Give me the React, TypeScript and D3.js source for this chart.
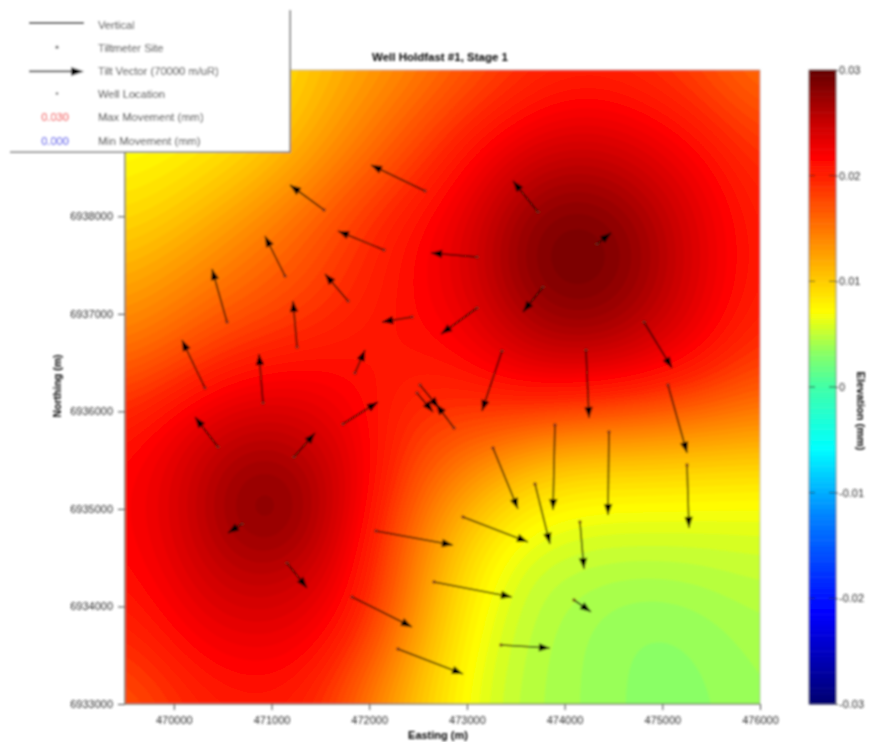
import * as d3 from "d3";
import { useEffect, useRef } from "react";

// Elevation every 500 m, north row first (mm)
const fieldEasting = [469500, 470000, 470500, 471000, 471500, 472000, 472500, 473000, 473500, 474000, 474500, 475000, 475500, 476000];
const fieldNorthing = [6939500, 6939000, 6938500, 6938000, 6937500, 6937000, 6936500, 6936000, 6935500, 6935000, 6934500, 6934000, 6933500, 6933000];
const fieldRows = [
  [.0055, .0062, .0070, .0085, .0108, .0125, .0145, .0165, .0187, .0198, .0197, .0188, .0172, .0150],
  [.0060, .0068, .0078, .0094, .0120, .0145, .0168, .0195, .0212, .0228, .0226, .0214, .0197, .0174],
  [.0075, .0082, .0094, .0112, .0137, .0160, .0190, .0215, .0247, .0260, .0256, .0237, .0218, .0190],
  [.0090, .0102, .0122, .0142, .0165, .0193, .0212, .0232, .0271, .0289, .0283, .0256, .0227, .0200],
  [.0112, .0128, .0145, .0160, .0178, .0198, .0218, .0238, .0278, .0300, .0293, .0262, .0230, .0200],
  [.0135, .0150, .0165, .0178, .0190, .0205, .0215, .0228, .0262, .0280, .0274, .0250, .0224, .0197],
  [.0158, .0175, .0198, .0208, .0212, .0212, .0208, .0212, .0235, .0246, .0243, .0228, .0208, .0180],
  [.0195, .0218, .0236, .0245, .0235, .0212, .0190, .0190, .0190, .0180, .0174, .0166, .0158, .0148],
  [.0212, .0233, .0262, .0271, .0252, .0222, .0175, .0150, .0122, .0105, .0105, .0103, .0102, .0100],
  [.0215, .0238, .0272, .0300, .0262, .0215, .0155, .0115, .0085, .0072, .0068, .0068, .0066, .0065],
  [.0212, .0232, .0258, .0266, .0248, .0203, .0140, .0092, .0058, .0052, .0050, .0050, .0052, .0055],
  [.0203, .0222, .0241, .0243, .0232, .0198, .0130, .0080, .0053, .0045, .0037, .0036, .0040, .0046],
  [.0187, .0208, .0222, .0223, .0215, .0172, .0118, .0070, .0050, .0042, .0036, .0032, .0036, .0042],
  [.0165, .0190, .0203, .0205, .0195, .0142, .0105, .0066, .0048, .0042, .0036, .0031, .0034, .0040],
];

// Tilt vectors: tiltmeter site and arrow tip
const siteEasting = [472571, 471537, 472151, 473727, 473103, 474331, 471138, 471783, 470544, 471261, 472438, 473103, 473779, 470319, 470913, 471854, 471731, 470452, 471230, 472520, 472868, 472489, 473359, 474219, 474812, 475058, 473901, 474454, 473267, 473697, 474157, 475253, 472960, 472069, 472663, 471824, 472294, 473349, 474096, 471158, 470698];
const siteNorthing = [6938260, 6938065, 6937655, 6938044, 6937583, 6937716, 6937388, 6937132, 6936916, 6936660, 6936968, 6937060, 6937275, 6936240, 6936086, 6936394, 6935871, 6935635, 6935532, 6936271, 6935830, 6936189, 6936619, 6936629, 6936916, 6936271, 6935861, 6935789, 6935625, 6935256, 6934866, 6935450, 6934917, 6934774, 6934251, 6934097, 6933564, 6933605, 6934066, 6934446, 6934846];
const tipEasting = [472018, 471189, 471680, 473472, 472632, 474475, 470933, 471547, 470391, 471220, 472131, 472735, 473574, 470083, 470872, 471957, 472090, 470217, 471445, 472714, 472683, 472653, 473154, 474250, 475099, 475253, 473881, 474444, 473523, 473850, 474198, 475273, 473625, 472857, 473461, 472438, 472960, 473850, 474270, 471363, 470554];
const tipNorthing = [6938526, 6938321, 6937849, 6938362, 6937624, 6937829, 6937798, 6937409, 6937460, 6937132, 6936916, 6936793, 6937019, 6936732, 6936588, 6936629, 6936096, 6935943, 6935779, 6936035, 6936076, 6935994, 6936004, 6935932, 6936445, 6935573, 6934989, 6934938, 6934999, 6934641, 6934384, 6934805, 6934661, 6934630, 6934097, 6933790, 6933308, 6933574, 6933944, 6934189, 6934753];

const eastTicks = [470000, 471000, 472000, 473000, 474000, 475000, 476000];
const northTicks = [6933000, 6934000, 6935000, 6936000, 6937000, 6938000];
const barTicks = [0.03, 0.02, 0.01, 0, -0.01, -0.02, -0.03];

const legendLabels = ["Vertical", "Tiltmeter Site", "Tilt Vector (70000 m/uR)", "Well Location", "Max Movement (mm)", "Min Movement (mm)"];

// Colour ramp of the elevation bar
const rampStops = [-0.03, -0.0214, -0.0123, -0.0058, 0, 0.0032, 0.0071, 0.0144, 0.0218, 0.025, 0.03];
const rampColors = ["#00006e", "#0000ff", "#0080ff", "#00ffff", "#40ffa8", "#88ff66", "#ffff00", "#ff8000", "#ff0000", "#c80000", "#640000"];

const W = 869;
const H = 742;
const FONT = "'Liberation Sans', Arial, sans-serif";
const TEXT_GREY = "#2e2e2e";
const FINE = 10; // contouring cells per 500 m grid step

// Catmull-Rom weights, only used to draw the read grid as smooth contours
const cr = (a: number, b: number, c: number, d: number, t: number) =>
  b + 0.5 * t * (c - a + t * (2 * a - 5 * b + 4 * c - d + t * (3 * (b - c) + d - a)));

const sampleField = (u: number, v: number) => {
  const nx = fieldEasting.length;
  const ny = fieldNorthing.length;
  const iu = Math.floor(u);
  const iv = Math.floor(v);
  const at = (i: number, j: number) =>
    fieldRows[Math.max(0, Math.min(ny - 1, j))][Math.max(0, Math.min(nx - 1, i))];
  const rows = [-1, 0, 1, 2].map((dj) =>
    cr(at(iu - 1, iv + dj), at(iu, iv + dj), at(iu + 1, iv + dj), at(iu + 2, iv + dj), u - iu)
  );
  return cr(rows[0], rows[1], rows[2], rows[3], v - iv);
};

export default function App() {
  const svgRef = useRef<SVGSVGElement>(null);

  useEffect(() => {
    const svg = d3.select(svgRef.current);
    svg.selectAll("*").remove();

    const x = d3.scaleLinear().domain([469500, 476000]).range([125, 760]);
    const y = d3.scaleLinear().domain([6933000, 6939500]).range([704, 70]);
    const bar = d3.scaleLinear().domain([-0.03, 0.03]).range([704, 70]);
    const color = d3.scaleLinear<string>().domain(rampStops).range(rampColors).clamp(true);

    const defs = svg.append("defs");
    defs.append("filter")
      .attr("id", "soft")
      .attr("filterUnits", "userSpaceOnUse")
      .attr("x", 0).attr("y", 0).attr("width", W).attr("height", H)
      .append("feGaussianBlur").attr("stdDeviation", 0.85);
    defs.append("clipPath").attr("id", "plot-clip")
      .append("rect")
      .attr("x", 125).attr("y", 70).attr("width", 635).attr("height", 634);

    const root = svg.append("g").attr("filter", "url(#soft)").style("font-family", FONT);

    // ── Filled contours ──
    const nx = fieldEasting.length;
    const ny = fieldNorthing.length;
    const w = (nx + 1) * FINE + 1;
    const h = (ny + 1) * FINE + 1;
    const fine = new Float64Array(w * h);
    for (let j = 0; j < h; j++) {
      for (let i = 0; i < w; i++) {
        fine[j * w + i] = sampleField(i / FINE - 1, j / FINE - 1);
      }
    }
    d3.blur2({ data: fine, width: w, height: h }, 6);

    const thresholds = d3.range(0.002, 0.0305, 0.0005);
    const contours = d3.contours().size([w, h]).thresholds(thresholds)(fine as any);

    const gridX = (c: number) => x(469500 + ((c - 0.5) / FINE - 1) * 500);
    const gridY = (c: number) => y(6939500 - ((c - 0.5) / FINE - 1) * 500);
    const ringPath = d3.line<number[]>().x((p) => gridX(p[0])).y((p) => gridY(p[1]));

    const map = root.append("g").attr("clip-path", "url(#plot-clip)");
    map.append("rect")
      .attr("x", 125).attr("y", 70).attr("width", 635).attr("height", 634)
      .attr("fill", color(0.0025));
    map.selectAll(".band")
      .data(contours)
      .enter()
      .append("path")
      .attr("fill", (d) => color(d.value + 0.00025))
      .attr("fill-rule", "evenodd")
      .attr("d", (d) => d.coordinates
        .flatMap((poly) => poly.map((ring) => ringPath(ring as number[][]) + "Z"))
        .join(""));

    // plot frame, heavier on the left and bottom like the source
    root.append("rect")
      .attr("x", 125).attr("y", 70).attr("width", 635).attr("height", 634)
      .attr("fill", "none").attr("stroke", "#999").attr("stroke-width", 0.6);
    root.append("path")
      .attr("d", "M125,70V704H760")
      .attr("fill", "none").attr("stroke", "#6a6a5a").attr("stroke-width", 1.2);

    // ── Axes ──
    const styleAxis = (g: any) => {
      g.select(".domain").remove();
      g.selectAll("line").attr("stroke", "#444").attr("stroke-width", 1);
      g.selectAll("text")
        .attr("fill", TEXT_GREY)
        .style("font-size", "11px")
        .style("font-family", FONT);
    };
    root.append("g")
      .attr("transform", "translate(0,704)")
      .call(d3.axisBottom(x).tickValues(eastTicks).tickFormat(d3.format("d") as any).tickSize(6).tickPadding(6))
      .call(styleAxis);
    root.append("g")
      .attr("transform", "translate(125,0)")
      .call(d3.axisLeft(y).tickValues(northTicks).tickFormat(d3.format("d") as any).tickSize(7).tickPadding(5))
      .call(styleAxis);

    // ── Tilt vectors ──
    const vectors = root.append("g");
    siteEasting.forEach((e, i) => {
      const x0 = x(e);
      const y0 = y(siteNorthing[i]);
      const x1 = x(tipEasting[i]);
      const y1 = y(tipNorthing[i]);
      const angle = (Math.atan2(y1 - y0, x1 - x0) * 180) / Math.PI;
      vectors.append("line")
        .attr("x1", x0).attr("y1", y0).attr("x2", x1).attr("y2", y1)
        .attr("stroke", "#140c00").attr("stroke-width", 1.6).attr("opacity", 0.85);
      vectors.append("path")
        .attr("d", "M0,0L-11,-4.2L-11,4.2Z")
        .attr("transform", `translate(${x1},${y1}) rotate(${angle})`)
        .attr("fill", "#000");
      vectors.append("circle")
        .attr("cx", x0).attr("cy", y0).attr("r", 1.8)
        .attr("fill", "#6a2a10").attr("opacity", 0.8);
    });

    // ── Elevation bar ──
    const barG = root.append("g");
    const barCells = d3.range(-0.03, 0.03, 0.0005);
    barG.selectAll("rect")
      .data(barCells)
      .enter()
      .append("rect")
      .attr("x", 809).attr("width", 27)
      .attr("y", (d) => bar(d + 0.0005))
      .attr("height", (d) => bar(d) - bar(d + 0.0005) + 0.5)
      .attr("fill", (d) => color(d + 0.00025));
    barG.append("rect")
      .attr("x", 809).attr("y", 70).attr("width", 27).attr("height", 634)
      .attr("fill", "none").attr("stroke", "#6a6a6a").attr("stroke-width", 0.8);
    barG.selectAll(".inner")
      .data(barTicks.slice(1, -1))
      .enter()
      .append("path")
      .attr("d", (d) => `M809,${bar(d)}h6M829,${bar(d)}h7`)
      .attr("stroke", "#222").attr("stroke-width", 1).attr("opacity", 0.7);
    root.append("g")
      .attr("transform", "translate(836,0)")
      .call(d3.axisRight(bar).tickValues(barTicks).tickFormat((d) => String(d)).tickSize(2).tickPadding(1))
      .call(styleAxis);

    // ── Titles ──
    const bold = (t: string, tx: number, ty: number, rotate = 0) => root.append("text")
      .attr("transform", `translate(${tx},${ty}) rotate(${rotate})`)
      .attr("text-anchor", "middle")
      .attr("fill", "#000")
      .style("font-size", "11px")
      .style("font-weight", "700")
      .text(t);
    bold("Well Holdfast #1, Stage 1", 440, 61).style("font-size", "11.5px");
    bold("Easting (m)", 438, 739);
    bold("Northing (m)", 61, 386, -90).style("font-size", "10.5px");
    bold("Elevation (mm)", 857, 411, 90).style("font-size", "11px");

    // ── Legend ──
    const legend = root.append("g");
    legend.append("rect")
      .attr("x", 10).attr("y", 0).attr("width", 280).attr("height", 152)
      .attr("fill", "#fff");
    legend.append("path")
      .attr("d", "M290,10V152H10")
      .attr("fill", "none").attr("stroke", "#777").attr("stroke-width", 1.6);

    const rowY = d3.scalePoint<string>().domain(legendLabels).range([25, 141]);
    legend.selectAll(".lbl")
      .data(legendLabels)
      .enter()
      .append("text")
      .attr("x", 98)
      .attr("y", (d) => (rowY(d) as number) + 3.5)
      .attr("fill", TEXT_GREY)
      .style("font-size", "11.2px")
      .text((d) => d);

    const [vertical, site, tilt, well, maxMove, minMove] = legendLabels.map((l) => rowY(l) as number);
    legend.append("line")
      .attr("x1", 29).attr("x2", 84).attr("y1", vertical - 2).attr("y2", vertical - 2)
      .attr("stroke", "#111").attr("stroke-width", 1.8);
    legend.append("circle").attr("cx", 57).attr("cy", site - 1).attr("r", 1.6).attr("fill", "#666");
    legend.append("line")
      .attr("x1", 29).attr("x2", 74).attr("y1", tilt).attr("y2", tilt)
      .attr("stroke", "#333").attr("stroke-width", 1.8);
    legend.append("path").attr("d", `M84,${tilt}L71,${tilt - 4.5}V${tilt + 4.5}Z`).attr("fill", "#000");
    legend.append("circle").attr("cx", 57).attr("cy", well - 1).attr("r", 1.3).attr("fill", "#666");
    legend.append("text")
      .attr("x", 55).attr("y", maxMove + 3.5).attr("text-anchor", "middle")
      .attr("fill", "#f01818").style("font-size", "11px").text("0.030");
    legend.append("text")
      .attr("x", 55).attr("y", minMove + 3.5).attr("text-anchor", "middle")
      .attr("fill", "#1818e8").style("font-size", "11px").text("0.000");
  }, []);

  return (
    <svg
      ref={svgRef}
      width={W}
      height={H}
      style={{ position: "absolute", left: 0, top: 0, background: "#fff" }}
    />
  );
}
